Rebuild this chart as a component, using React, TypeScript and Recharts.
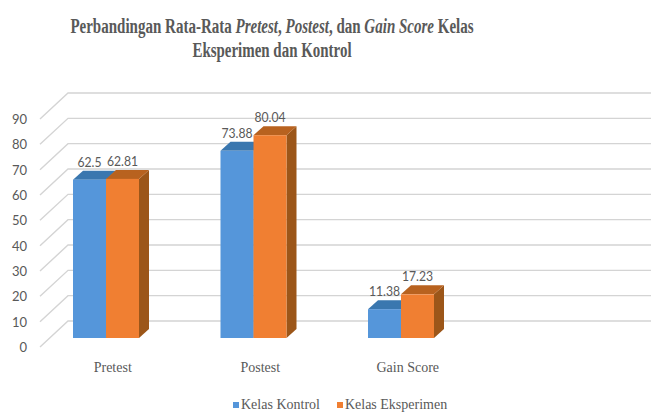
import React, { useLayoutEffect, useRef, useState } from 'react';
import { BarChart, Bar, XAxis, YAxis, CartesianGrid, LabelList, Legend } from 'recharts';

const categories = ['Pretest', 'Postest', 'Gain Score', ''];
const kelasKontrol: (number | null)[] = [62.5, 73.88, 11.38, null];
const kelasEksperimen: (number | null)[] = [62.81, 80.04, 17.23, null];
const yTicks = [0, 10, 20, 30, 40, 50, 60, 70, 80, 90];
const seriesNames = ['Kelas Kontrol', 'Kelas Eksperimen'];
const titleLine1 = ['Perbandingan Rata-Rata ', 'Pretest', ', ', 'Postest', ', dan ', 'Gain Score', ' Kelas'];
const titleLine2 = ['Eksperimen dan Kontrol'];

const data = categories.map((c, i) => ({
  category: c,
  kontrol: kelasKontrol[i],
  eksperimen: kelasEksperimen[i],
}));

const DX = 10;
const DY = 9;
const TEXT = '#595959';

const BLUE = { front: '#5596DA', top: '#3A77AF', side: '#33689A' };
const ORANGE = { front: '#F07F32', top: '#B8621F', side: '#9C5619' };

const make3DBar = (c: { front: string; top: string; side: string }) => (props: any) => {
  const { x, y, width, height } = props;
  if (height == null || height <= 0 || isNaN(y)) return <g />;
  const top = `M${x},${y} L${x + DX},${y - DY} L${x + width + DX},${y - DY} L${x + width},${y} Z`;
  const side = `M${x + width},${y} L${x + width + DX},${y - DY} L${x + width + DX},${y + height - DY} L${x + width},${y + height} Z`;
  return (
    <g>
      <path d={side} fill={c.side} />
      <path d={top} fill={c.top} />
      <rect x={x} y={y} width={width} height={height} fill={c.front} />
    </g>
  );
};

const renderValueLabel = (props: any) => {
  const { x, y, width, value } = props;
  if (value == null) return null;
  return (
    <text
      transform={`translate(${x + width / 2},${y - 13}) scale(0.87,1)`}
      textAnchor="middle"
      fontFamily="Lato, sans-serif"
      fontSize={14}
      fill={TEXT}
    >
      {value}
    </text>
  );
};

const gridLine = (props: any) => {
  const { x1, y1, x2, key } = props;
  const d = `M${x1 + 8},${y1 + 9} L${x1 + 36},${y1 - 17} L${x2 + 29},${y1 - 17}`;
  return <path key={key} d={d} fill="none" stroke="#D4D4D4" strokeWidth={1.4} />;
};

const YTick = (props: any) => {
  const { x, y, payload } = props;
  return (
    <text x={x + 3} y={y + 9} textAnchor="end" dominantBaseline="central" fontFamily="Lato, sans-serif" fontSize={13} fill={TEXT}>
      {payload.value}
    </text>
  );
};

const XTick = (props: any) => {
  const { x, y, payload } = props;
  return (
    <text x={x + 7} y={y + 26} textAnchor="middle" fontFamily='"Liberation Serif", "Times New Roman", serif' fontSize={14} fill={TEXT}>
      {payload.value}
    </text>
  );
};

const renderLegend = (props: any) => {
  const payload = [...(props.payload || [])].sort(
    (a: any, b: any) => seriesNames.indexOf(a.value) - seriesNames.indexOf(b.value)
  );
  return (
    <div style={{ display: 'flex', alignItems: 'center', marginLeft: 233, fontFamily: '"Liberation Serif", "Times New Roman", serif', fontSize: 14, color: TEXT, lineHeight: '18px' }}>
      {payload.map((p: any) => (
        <span key={p.value} style={{ display: 'flex', alignItems: 'center', marginRight: 17 }}>
          <span style={{ display: 'inline-block', width: 6, height: 6, background: p.color, marginRight: 2 }} />
          {p.value}
        </span>
      ))}
    </div>
  );
};

function FitTitle({ parts, cx, y, width }: { parts: string[]; cx: number; y: number; width: number }) {
  const ref = useRef<SVGTextElement>(null);
  const [sx, setSx] = useState(0.72);
  useLayoutEffect(() => {
    if (ref.current) {
      const w = ref.current.getBBox().width;
      if (w > 0) setSx(width / w);
    }
  }, [width]);
  return (
    <text
      ref={ref}
      transform={`translate(${cx},${y}) scale(${sx},1)`}
      textAnchor="middle"
      fontFamily='"Liberation Serif", "Times New Roman", serif'
      fontWeight="bold"
      fontSize={21}
      fill={TEXT}
    >
      {parts.map((t, i) => (
        <tspan key={i} fontStyle={i % 2 === 1 ? 'italic' : 'normal'}>{t}</tspan>
      ))}
    </text>
  );
}

export default function App() {
  return (
    <div style={{ position: 'absolute', left: 0, top: 0, width: 651, height: 413, background: '#fff' }}>
      <BarChart
        width={651}
        height={413}
        data={data}
        margin={{ top: 110, right: 29, bottom: 45, left: 0 }}
        barSize={33}
        barGap={0}
      >
        <CartesianGrid horizontal={gridLine} vertical={false} />
        <XAxis dataKey="category" axisLine={false} tickLine={false} tick={<XTick />} height={30} interval={0} />
        <YAxis domain={[0, 90]} ticks={yTicks} axisLine={false} tickLine={false} tick={<YTick />} width={32} />
        <Legend
          layout="horizontal"
          verticalAlign="middle"
          content={renderLegend}
          wrapperStyle={{ top: 396, left: 0, width: 651, bottom: 'auto' }}
        />
        <Bar dataKey="kontrol" name={seriesNames[0]} fill={BLUE.front} shape={make3DBar(BLUE)} isAnimationActive={false}>
          <LabelList dataKey="kontrol" content={renderValueLabel} />
        </Bar>
        <Bar dataKey="eksperimen" name={seriesNames[1]} fill={ORANGE.front} shape={make3DBar(ORANGE)} isAnimationActive={false}>
          <LabelList dataKey="eksperimen" content={renderValueLabel} />
        </Bar>
      </BarChart>
      <svg width={651} height={70} style={{ position: 'absolute', left: 0, top: 0 }}>
        <FitTitle parts={titleLine1} cx={272} y={33} width={403} />
        <FitTitle parts={titleLine2} cx={272} y={57} width={159} />
      </svg>
    </div>
  );
}
